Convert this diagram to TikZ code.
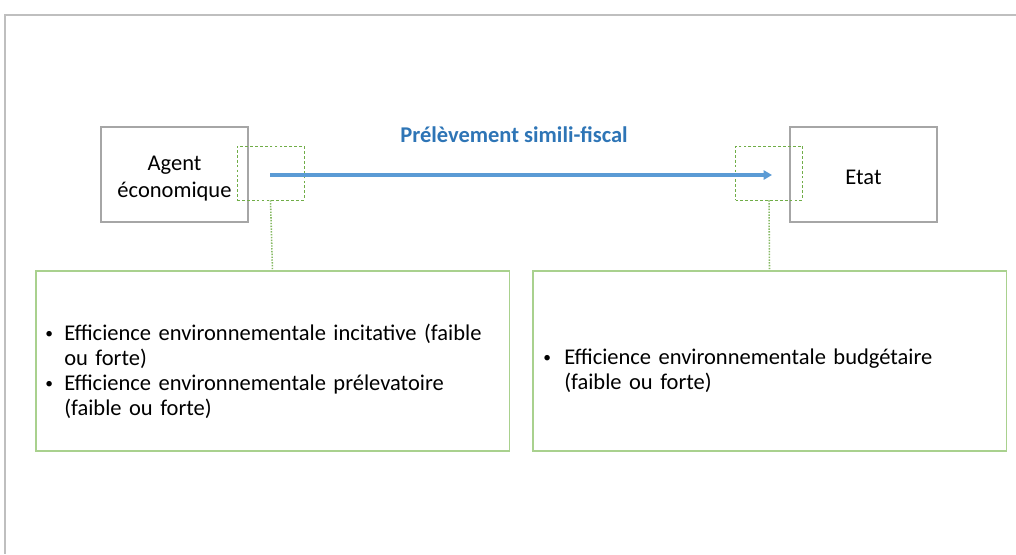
\documentclass[tikz,border=0pt]{standalone}
\usepackage{fontspec}
\setmainfont{Carlito}
\usepackage{enumitem}
\usetikzlibrary{arrows.meta,positioning}
\definecolor{frame}{HTML}{BFBFBF}
\definecolor{actor}{HTML}{A6A6A6}
\definecolor{flow}{HTML}{5B9BD5}
\definecolor{flowtext}{HTML}{2E75B6}
\definecolor{leaf}{HTML}{70AD47}
\definecolor{leafline}{HTML}{A9D18E}
\newcommand{\effbullet}{\raisebox{0.1em}{\fontsize{11}{11}\selectfont•}}
\setlist[itemize]{label=\effbullet,labelindent=0pt,labelsep=0pt,align=left,itemsep=0pt,topsep=0pt,parsep=0pt,partopsep=0pt}

\begin{document}
\begin{tikzpicture}[
  x=0.025cm,y=-0.025cm,
  every node/.style={font=\fontsize{16}{19.2}\selectfont,align=center},
  actor/.style={draw=actor,thick,minimum width=3.675cm,minimum height=2.375cm,inner sep=0pt},
  zone/.style={draw=leaf,dash pattern=on 2pt off 1.5pt,minimum width=1.675cm,minimum height=1.35cm,inner sep=0pt},
  effect/.style={draw=leafline,thick,minimum width=11.825cm,minimum height=4.5cm,inner sep=0pt},
  hint/.style={leaf!85,dash pattern=on 1pt off 1pt,line width=1.1pt},
  payment/.style={-{Triangle[length=2.1mm,width=2.3mm]},line width=2.4pt,flow},
  effects/.style={text width=11cm,align=left,anchor=north west,inner sep=0pt,font=\fontsize{16}{17.8}\selectfont}
]
  \useasboundingbox (0,0) rectangle (1016,554);
  % Slide frame shows only on the top and left sides.
  \draw[frame,thick] (1016,15) -- (5,15) -- (5,554);

  % Both actors of the levy.
  \node[actor,label={[name=agentname,yshift=-0.09cm]center:Agent\\économique}] (agent) at (174.5,174.5) {};
  \node[actor,label={[name=etatname,yshift=-0.07cm]center:Etat}] (etat) at (863.5,174.5) {};

  % Dashed zones on the two ends of the flow.
  \node[zone] (zoneA) at (270.5,173) {};
  \node[zone] (zoneE) at (769,173) {};

  \coordinate (start) at (270,175);
  \coordinate (stop) at (772,175);
  \draw[payment] (start) -- (stop)
    node[midway,anchor=base,inner sep=0pt,xshift=-0.175cm,yshift=0.8cm,text=flowtext,font=\fontsize{16}{19}\selectfont\bfseries] (levy) {Prélèvement simili-fiscal};

  % Effects of the levy, one box per side.
  \node[effect] (effA) at (272.5,361) {};
  \node[effect] (effE) at (769.5,361) {};
  \draw[hint] (zoneA.south) -- (effA.north);
  \draw[hint] (zoneE.south) -- (effE.north);

  \node[effects] (listA) at (45,315)
  {\raggedright
   \begin{itemize}[leftmargin=0.475cm,labelwidth=0.475cm]
     \item Efficience environnementale incitative (faible\\ou forte)
     \item Efficience environnementale prélevatoire\\(faible ou forte)
   \end{itemize}};
  \node[effects] (listE) at (543,339)
  {\raggedright
   \begin{itemize}[leftmargin=0.525cm,labelwidth=0.525cm]
     \item Efficience environnementale budgétaire\\(faible ou forte)
   \end{itemize}};
\end{tikzpicture}
\end{document}
